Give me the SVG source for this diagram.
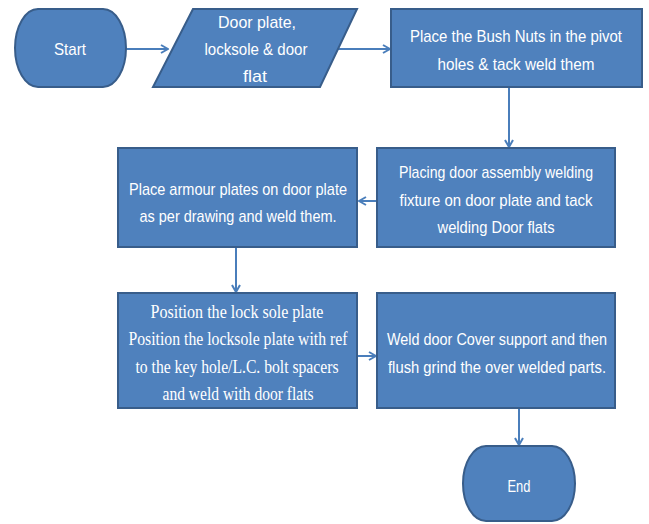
<svg xmlns="http://www.w3.org/2000/svg" width="649" height="524" viewBox="0 0 649 524">
  <defs>
    <marker id="arrow" viewBox="0 0 10 10" refX="9" refY="5" markerWidth="10" markerHeight="10" markerUnits="userSpaceOnUse" orient="auto">
      <polyline points="2,1 9,5 2,9" fill="none" stroke="#4A7EBB" stroke-width="2"/>
    </marker>
    <style>
      .shape { fill: #4F81BD; stroke: #385D8A; stroke-width: 2; }
      .conn { fill: none; stroke: #4A7EBB; stroke-width: 2; marker-end: url(#arrow); }
      .t { fill: #FFFFFF; font-family: "Liberation Sans", Arial, sans-serif; font-size: 17px; text-anchor: middle; }
      .s { fill: #FFFFFF; font-family: "Liberation Serif", "Times New Roman", serif; font-size: 19px; text-anchor: middle; }
    </style>
  </defs>
  <rect width="649" height="524" fill="#FFFFFF"/>

  <!-- connectors -->
  <g id="connectors">
    <line class="conn" x1="126" y1="49" x2="168" y2="49"/>
    <line class="conn" x1="338" y1="49" x2="390" y2="49"/>
    <line class="conn" x1="509" y1="88" x2="509" y2="147"/>
    <line class="conn" x1="377" y1="201" x2="359" y2="201"/>
    <line class="conn" x1="236" y1="248" x2="236" y2="292"/>
    <line class="conn" x1="320" y1="356" x2="376" y2="356"/>
    <line class="conn" x1="519" y1="387" x2="519" y2="445"/>
  </g>

  <!-- start terminator -->
  <g id="start">
    <path class="shape" d="M38,9 H103 A23,39 0 0 1 103,87 H38 A23,39 0 0 1 38,9 Z"/>
    <text class="t" x="70" y="55" textLength="32" lengthAdjust="spacingAndGlyphs">Start</text>
  </g>

  <!-- input: materials -->
  <g id="materials">
    <polygon class="shape" points="193,9 357,9 320,87 153,87"/>
    <text class="t" x="257" y="28" textLength="78" lengthAdjust="spacingAndGlyphs">Door plate,</text>
    <text class="t" x="256" y="55" textLength="103" lengthAdjust="spacingAndGlyphs">locksole &amp; door</text>
    <text class="t" x="255" y="82" textLength="24" lengthAdjust="spacingAndGlyphs">flat</text>
  </g>

  <!-- step: bush nuts -->
  <g id="bush-nuts">
    <rect class="shape" x="391" y="9" width="251" height="78"/>
    <text class="t" x="516" y="42" textLength="212" lengthAdjust="spacingAndGlyphs" font-size="16">Place the Bush Nuts in the pivot</text>
    <text class="t" x="516" y="70" textLength="157" lengthAdjust="spacingAndGlyphs">holes &amp; tack weld them</text>
  </g>

  <!-- step: welding fixture -->
  <g id="fixture">
    <rect class="shape" x="377" y="148" width="238" height="99"/>
    <text class="t" x="496" y="178" textLength="194" lengthAdjust="spacingAndGlyphs">Placing door assembly welding</text>
    <text class="t" x="496" y="206" textLength="193" lengthAdjust="spacingAndGlyphs">fixture on door plate  and tack</text>
    <text class="t" x="496" y="233" textLength="117" lengthAdjust="spacingAndGlyphs">welding Door flats</text>
  </g>

  <!-- step: armour plates -->
  <g id="armour">
    <rect class="shape" x="118" y="148" width="239" height="99"/>
    <text class="t" x="238" y="195" textLength="218" lengthAdjust="spacingAndGlyphs">Place armour plates on door plate</text>
    <text class="t" x="238" y="222" textLength="197" lengthAdjust="spacingAndGlyphs">as per drawing and weld them.</text>
  </g>

  <!-- step: lock sole plate -->
  <g id="lock-sole">
    <rect class="shape" x="118" y="293" width="239" height="115"/>
    <text class="s" x="237" y="318" textLength="173" lengthAdjust="spacingAndGlyphs">Position  the lock sole plate</text>
    <text class="s" x="238" y="345" textLength="219" lengthAdjust="spacingAndGlyphs">Position the locksole plate with ref</text>
    <text class="s" x="237" y="373" textLength="203" lengthAdjust="spacingAndGlyphs">to the key hole/L.C.  bolt spacers</text>
    <text class="s" x="238" y="400" textLength="151" lengthAdjust="spacingAndGlyphs">and weld with door flats</text>
  </g>

  <!-- step: cover support -->
  <g id="cover-support">
    <rect class="shape" x="377" y="293" width="238" height="115"/>
    <text class="t" x="497" y="345" textLength="220" lengthAdjust="spacingAndGlyphs">Weld door Cover support and then</text>
    <text class="t" x="497" y="373" textLength="218" lengthAdjust="spacingAndGlyphs">flush grind the over welded parts.</text>
  </g>

  <!-- end terminator -->
  <g id="end">
    <path class="shape" d="M486,446 H552 A23,37.5 0 0 1 552,521 H486 A23,37.5 0 0 1 486,446 Z"/>
    <text class="t" x="519" y="492" textLength="23" lengthAdjust="spacingAndGlyphs">End</text>
  </g>
</svg>
